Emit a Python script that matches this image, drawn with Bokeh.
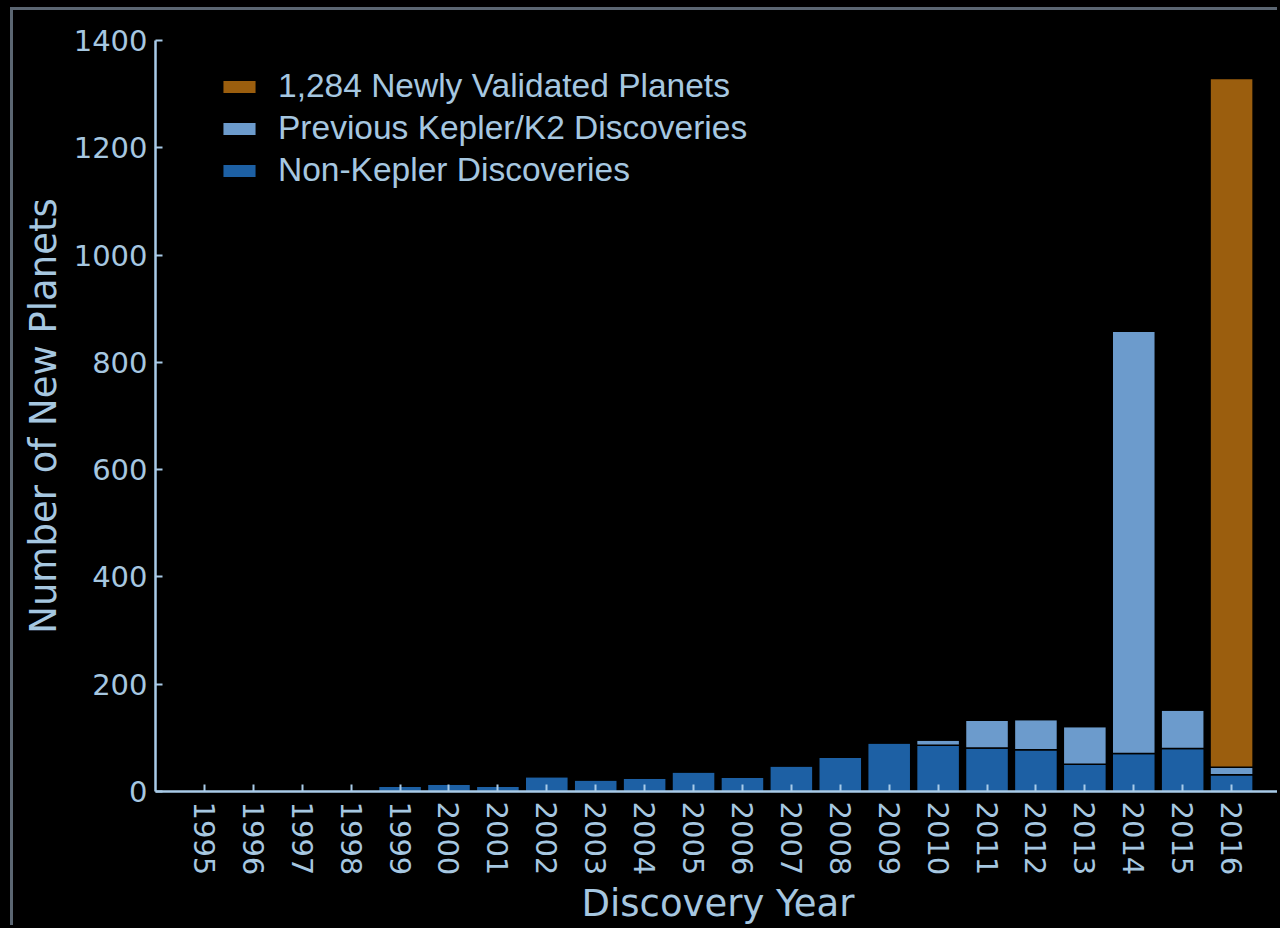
from bokeh.plotting import figure
from bokeh.models import FixedTicker, Legend, LegendItem, ColumnDataSource, Range1d
from bokeh.embed import file_html
from bokeh.resources import INLINE

years = [1995, 1996, 1997, 1998, 1999, 2000, 2001, 2002, 2003, 2004, 2005,
         2006, 2007, 2008, 2009, 2010, 2011, 2012, 2013, 2014, 2015, 2016]
non_kepler = [1, 2, 1, 2, 10, 14, 10, 28, 22, 25, 37,
              27, 48, 64, 91, 86, 81, 78, 51, 71, 80, 31]
prev_kepler = [0, 0, 0, 0, 0, 0, 0, 0, 0, 0, 0,
               0, 0, 0, 0, 10, 52, 56, 70, 787, 72, 14]
newly_validated = [0, 0, 0, 0, 0, 0, 0, 0, 0, 0, 0,
                   0, 0, 0, 0, 0, 0, 0, 0, 0, 0, 1284]
y_ticks = [0, 200, 400, 600, 800, 1000, 1200, 1400]
legend_labels = ["1,284 Newly Validated Planets",
                 "Previous Kepler/K2 Discoveries",
                 "Non-Kepler Discoveries"]

TXT = "#a6c7e0"
AX = "#a9cbe8"
C_NEW = "#9b5e0e"
C_PREV = "#6c9bcc"
C_NON = "#1d60a4"

source = ColumnDataSource(dict(year=years, non=non_kepler, prev=prev_kepler, new=newly_validated))

FRAME_H = 752
p = figure(width=1267, height=918, output_backend="svg", toolbar_location=None,
           x_range=Range1d(1994, 2017), y_range=Range1d(0, 1400),
           min_border_left=142, min_border_right=0, min_border_top=30, min_border_bottom=136)
p.styles = {"margin-left": "10px", "margin-top": "7px",
            "border-left": "3px solid #5b6672", "border-top": "3px solid #5b6672"}
p.background_fill_color = "black"
p.border_fill_color = "black"
p.outline_line_color = None
p.grid.visible = False

rs = p.vbar_stack(["non", "prev", "new"], x="year", width=0.88, source=source,
                  color=[C_NON, C_PREV, C_NEW], line_color="black", line_width=1.5)

p.xaxis.ticker = FixedTicker(ticks=years)
p.xaxis.major_label_overrides = {y: str(y) for y in years}
p.xaxis.major_label_orientation = "vertical"
p.yaxis.ticker = FixedTicker(ticks=y_ticks)
p.xaxis.axis_label = "Discovery Year"
p.yaxis.axis_label = "Number of New Planets"

for ax in (p.xaxis[0], p.yaxis[0]):
    ax.axis_line_color = AX
    ax.axis_line_width = 2.5
    ax.major_tick_line_color = AX
    ax.major_tick_line_width = 2
    ax.major_tick_in = 7
    ax.major_tick_out = 0
    ax.minor_tick_line_color = None
    ax.major_label_text_color = TXT
    ax.major_label_text_font = "DejaVu Sans"
    ax.major_label_text_font_size = "29px"
    ax.axis_label_text_color = TXT
    ax.axis_label_text_font = "DejaVu Sans"
    ax.axis_label_text_font_size = "37px"
    ax.axis_label_text_font_style = "normal"

p.yaxis.major_label_standoff = 8
p.yaxis.axis_label_standoff = 6
p.xaxis.major_label_standoff = 10
p.xaxis.axis_label_standoff = 4

n_items = 3
item_h = 38
gap = 4
leg_h = n_items * item_h + (n_items - 1) * gap
legend = Legend(items=[LegendItem(label=legend_labels[0], renderers=[rs[2]]),
                       LegendItem(label=legend_labels[1], renderers=[rs[1]]),
                       LegendItem(label=legend_labels[2], renderers=[rs[0]])],
                location=(63, FRAME_H - 28 - leg_h))
legend.background_fill_alpha = 0
legend.border_line_color = None
legend.padding = 0
legend.margin = 0
legend.spacing = gap
legend.glyph_width = 42
legend.glyph_height = 17
legend.label_height = item_h
legend.label_standoff = 18
legend.label_text_color = TXT
legend.label_text_font = "Liberation Sans"
legend.label_text_font_size = "33.5px"
p.add_layout(legend)

html = file_html(p, INLINE)
html = html.replace("<head>", "<head><style>html,body{background:#000;overflow:hidden}</style>", 1)
open("out.html", "w").write(html)
